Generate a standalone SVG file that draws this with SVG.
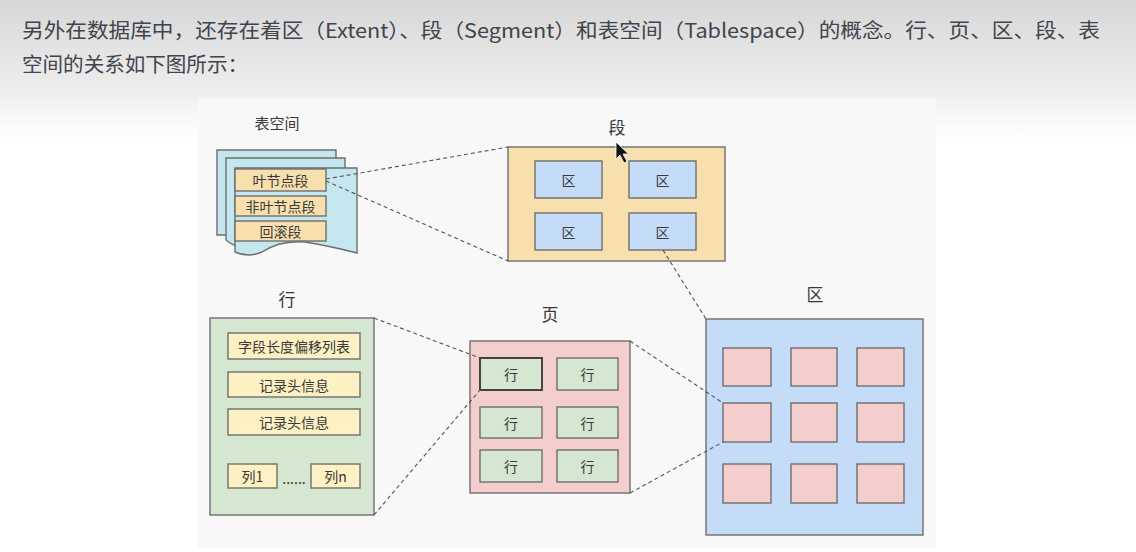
<svg xmlns="http://www.w3.org/2000/svg" width="1136" height="552" viewBox="0 0 1136 552">
<defs>
<linearGradient id="bg" x1="0" y1="0" x2="0" y2="1" gradientUnits="objectBoundingBox">
<stop offset="0" stop-color="#d7d7d7"/>
<stop offset="0.17" stop-color="#efefef"/>
<stop offset="0.25" stop-color="#ffffff"/>
<stop offset="1" stop-color="#ffffff"/>
</linearGradient>
<style>
.hdr{font-family:"Noto Sans CJK SC","Noto Sans",sans-serif;font-size:20px;fill:#40444c}
.t{font-family:"Noto Sans CJK SC","Noto Sans",sans-serif;fill:#3a3a3a;text-anchor:middle;dominant-baseline:central}
.lbl{font-size:17px}
.sm{font-size:14px}
.box{stroke:#6e6e6e;stroke-width:1.4}
.seg{fill:#f8dfae}
.ext{fill:#c5dcf8}
.pg{fill:#f4cdcd}
.row{fill:#d5e6d1}
.fld{fill:#fdf0c2}
.ts{fill:#c3e6ef}
.dash{fill:none;stroke:#555;stroke-width:1.1;stroke-dasharray:4 3}
</style>
</defs>
<rect x="0" y="0" width="1136" height="552" fill="url(#bg)"/>
<text class="hdr" x="22" y="38" textLength="1078" lengthAdjust="spacingAndGlyphs">另外在数据库中，还存在着区（Extent）、段（Segment）和表空间（Tablespace）的概念。行、页、区、段、表</text>
<text class="hdr" x="22" y="72" textLength="226" lengthAdjust="spacingAndGlyphs">空间的关系如下图所示：</text>
<rect x="198" y="99" width="738" height="449" fill="#f8f8f8"/>

<g id="tablespace">
<text class="t" x="277" y="122" style="font-size:15px">表空间</text>
<path class="box ts" d="M217,150 H336 V235 H217 Z"/>
<path class="box ts" d="M226,158 H345 V243 Q300,232 260,246 Q240,252 226,240 Z"/>
<path class="box ts" d="M235,168 H357 V253 Q330,246 305,242 Q280,240 262,252 Q248,258 235,252 Z"/>
<rect class="box seg" x="235" y="169" width="91" height="22"/>
<text class="t sm" x="280.5" y="180">叶节点段</text>
<rect class="box seg" x="235" y="196" width="91" height="20"/>
<text class="t sm" x="280.5" y="206">非叶节点段</text>
<rect class="box seg" x="235" y="221" width="91" height="20"/>
<text class="t sm" x="280.5" y="231">回滚段</text>
</g>

<g id="segment">
<text class="t lbl" x="617" y="126">段</text>
<rect class="box seg" x="508" y="147" width="217" height="114"/>
<rect class="box ext" x="535" y="161" width="67" height="37"/>
<text class="t sm" x="568.5" y="180">区</text>
<rect class="box ext" x="629" y="161" width="67" height="37"/>
<text class="t sm" x="662.5" y="180">区</text>
<rect class="box ext" x="535" y="213" width="67" height="37"/>
<text class="t sm" x="568.5" y="232">区</text>
<rect class="box ext" x="629" y="213" width="67" height="37"/>
<text class="t sm" x="662.5" y="232">区</text>
</g>

<g id="row">
<text class="t lbl" x="287" y="298">行</text>
<rect class="box row" x="210" y="318" width="164" height="197"/>
<rect class="box fld" x="228" y="333" width="132" height="26"/>
<text class="t sm" x="294" y="346">字段长度偏移列表</text>
<rect class="box fld" x="228" y="372" width="132" height="25"/>
<text class="t sm" x="294" y="385">记录头信息</text>
<rect class="box fld" x="228" y="409" width="132" height="26"/>
<text class="t sm" x="294" y="422">记录头信息</text>
<rect class="box fld" x="228" y="464" width="49" height="24"/>
<text class="t sm" x="252.5" y="476">列1</text>
<text class="t sm" x="294" y="478">......</text>
<rect class="box fld" x="311" y="464" width="49" height="24"/>
<text class="t sm" x="335.5" y="476">列n</text>
</g>

<g id="page">
<text class="t lbl" x="550" y="313">页</text>
<rect class="box pg" x="470" y="341" width="160" height="152"/>
<rect class="row" x="480" y="358" width="62" height="32" stroke="#444" stroke-width="2"/>
<text class="t sm" x="511" y="374">行</text>
<rect class="box row" x="557" y="358" width="61" height="32"/>
<text class="t sm" x="587.5" y="374">行</text>
<rect class="box row" x="480" y="407" width="62" height="31"/>
<text class="t sm" x="511" y="422.5">行</text>
<rect class="box row" x="557" y="407" width="61" height="31"/>
<text class="t sm" x="587.5" y="422.5">行</text>
<rect class="box row" x="480" y="450" width="62" height="32"/>
<text class="t sm" x="511" y="466">行</text>
<rect class="box row" x="557" y="450" width="61" height="32"/>
<text class="t sm" x="587.5" y="466">行</text>
</g>

<g id="extent">
<text class="t lbl" x="815" y="293">区</text>
<rect class="box ext" x="706" y="319" width="217" height="216"/>
<rect class="box pg" x="723" y="348" width="48" height="38"/>
<rect class="box pg" x="791" y="348" width="46" height="38"/>
<rect class="box pg" x="857" y="348" width="47" height="38"/>
<rect class="box pg" x="723" y="403" width="48" height="39"/>
<rect class="box pg" x="791" y="403" width="46" height="39"/>
<rect class="box pg" x="857" y="403" width="47" height="39"/>
<rect class="box pg" x="723" y="464" width="48" height="39"/>
<rect class="box pg" x="791" y="464" width="46" height="39"/>
<rect class="box pg" x="857" y="464" width="47" height="39"/>
</g>

<g id="connectors">
<line class="dash" x1="326" y1="179" x2="508" y2="147"/>
<line class="dash" x1="326" y1="181" x2="508" y2="261"/>
<line class="dash" x1="663" y1="250" x2="706" y2="319"/>
<line class="dash" x1="374" y1="318" x2="480" y2="358"/>
<line class="dash" x1="374" y1="515" x2="480" y2="390"/>
<line class="dash" x1="630" y1="341" x2="723" y2="403"/>
<line class="dash" x1="630" y1="493" x2="723" y2="442"/>
</g>

<path d="M616,142 L616,159 L620,155 L624,163 L627,161.5 L623,154 L628.5,154 Z" fill="#111" stroke="#fff" stroke-width="0.8"/>
</svg>
